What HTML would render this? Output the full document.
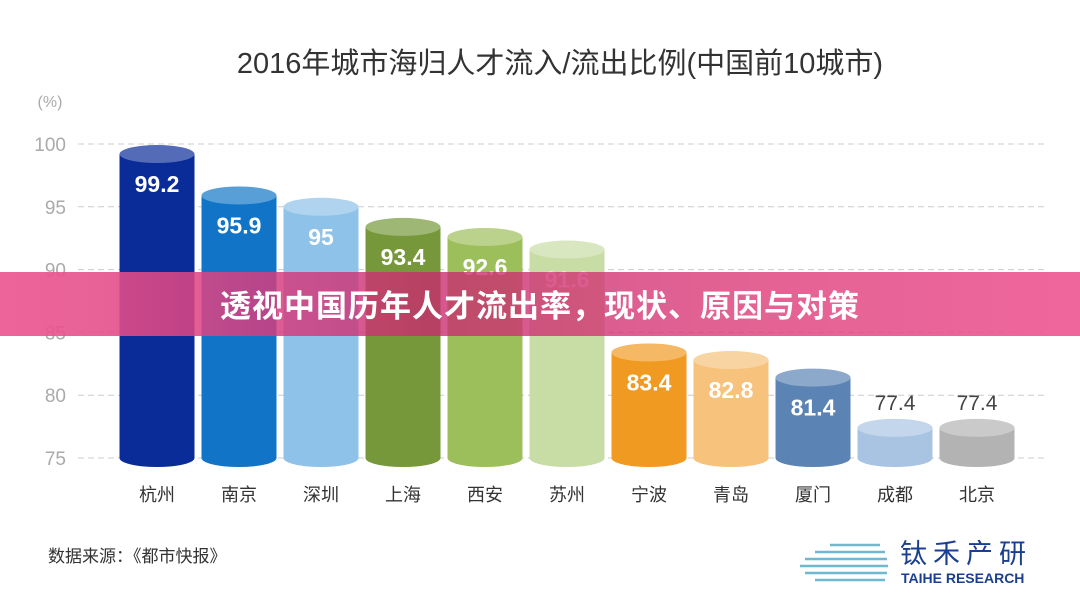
<!DOCTYPE html>
<html><head><meta charset="utf-8">
<style>
html,body{margin:0;padding:0;background:#fff;}
body{width:1080px;height:608px;overflow:hidden;position:relative;font-family:"Liberation Sans","Noto Sans CJK SC",sans-serif;}
svg{position:absolute;left:0;top:0;}
#banner{position:absolute;left:0;top:272px;width:1080px;height:64px;background:linear-gradient(90deg,rgba(236,88,146,0.93),rgba(200,40,110,0.78) 40%,rgba(220,60,120,0.8) 70%,rgba(238,90,150,0.93));color:#fff;font-weight:bold;font-size:31px;line-height:64px;text-align:center;font-family:"Noto Sans CJK SC",sans-serif;letter-spacing:1px;}
</style></head><body>
<svg id="chart" width="1080" height="608" viewBox="0 0 1080 608"></svg>
<div id="banner">透视中国历年人才流出率，现状、原因与对策</div>
<script>
const categories=["杭州","南京","深圳","上海","西安","苏州","宁波","青岛","厦门","成都","北京"];
const values=[99.2,95.9,95,93.4,92.6,91.6,83.4,82.8,81.4,77.4,77.4];
const yTicks=[75,80,85,90,95,100];
const colors=["#0a2c98","#1174c6","#8ec2e8","#76983a","#9dbf5b","#c8dca6","#f09a22","#f6c27c","#5b84b4","#a9c4e2","#b3b3b3"];
const NS="http://www.w3.org/2000/svg";
const svg=document.getElementById('chart');
function y(v){return 458-(v-75)*(314/25);}
function x(i){return 157+i*82;}
function mk(t,a,p){const e=document.createElementNS(NS,t);for(const k in a)e.setAttribute(k,a[k]);(p||svg).appendChild(e);return e;}
function lighten(hex,f){const n=parseInt(hex.slice(1),16);let r=n>>16,g=(n>>8)&255,b=n&255;r=Math.round(r+(255-r)*f);g=Math.round(g+(255-g)*f);b=Math.round(b+(255-b)*f);return `rgb(${r},${g},${b})`;}
let t=mk('text',{x:560,y:73,'text-anchor':'middle','font-size':29,fill:'#333','font-family':'"Liberation Sans","Noto Sans CJK SC",sans-serif'});

t.textContent='2016年城市海归人才流入/流出比例(中国前10城市)';
t=mk('text',{x:50,y:107,'text-anchor':'middle','font-size':16,fill:'#aaa'});t.textContent='(%)';

yTicks.forEach(v=>{
 const l=mk('line',{x1:78,x2:1045,y1:y(v),y2:y(v),stroke:'#ccc','stroke-dasharray':'6 4','stroke-width':1});
 
 const tx=mk('text',{x:66,y:y(v)+7,'text-anchor':'end','font-size':19,fill:'#aaa'});tx.textContent=v;
 
});
const w=75,ry=9;
values.forEach((v,i)=>{
 const g=mk('g',{});
 
 const cx=x(i),top=y(v),bot=458;
 mk('rect',{x:cx-w/2,y:top,width:w,height:bot-top,fill:colors[i]},g);
 mk('ellipse',{cx:cx,cy:bot,rx:w/2,ry:ry,fill:colors[i]},g);
 mk('ellipse',{cx:cx,cy:top,rx:w/2,ry:ry,fill:lighten(colors[i],0.3)},g);
 const inside=(top+40<bot-5);
 const lb=mk('text',{x:cx,y:inside?top+38:top-18,'text-anchor':'middle','font-size':inside?23:21,'font-weight':inside?'bold':'normal',fill:inside?'#fff':'#444'});
 lb.textContent=v;
 
 const cl=mk('text',{x:cx,y:501,'text-anchor':'middle','font-size':18,fill:'#333','font-family':'"Noto Sans CJK SC",sans-serif'});
 cl.textContent=categories[i];
 
});
t=mk('text',{x:48,y:562,'font-size':17,fill:'#333','font-family':'"Noto Sans CJK SC",sans-serif'});t.textContent='数据来源：《都市快报》';

const lg=mk('g',{});
[[545,830,880],[552,815,885],[559,805,887],[566,800,888],[573,805,887],[580,815,885]].forEach(a=>{
 mk('line',{x1:a[1],x2:a[2],y1:a[0],y2:a[0],stroke:'#6fb8cf','stroke-width':2.5},lg);});
t=mk('text',{x:900,y:563,'font-size':27,fill:'#1a3f8f','letter-spacing':'6','font-family':'"Noto Sans CJK SC",sans-serif'},lg);t.textContent='钛禾产研';
t=mk('text',{x:901,y:583,'font-size':14,fill:'#1a3f8f','font-weight':'bold'},lg);t.textContent='TAIHE RESEARCH';
</script>
</body></html>
